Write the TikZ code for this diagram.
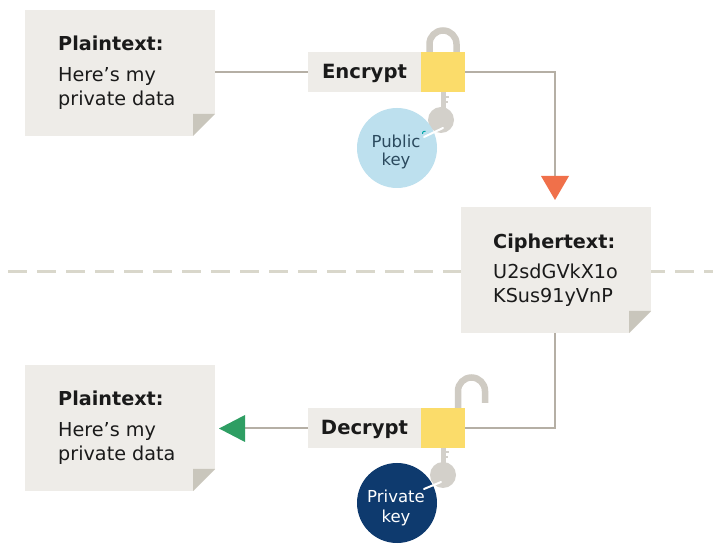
\documentclass[tikz,border=0pt]{standalone}
\usepackage{fontspec}
\setmainfont{DejaVu Sans}
\definecolor{paper}{HTML}{EEECE8}
\definecolor{foldc}{HTML}{C9C6BC}
\definecolor{linec}{HTML}{B5AFA5}
\definecolor{dashc}{HTML}{D9D7CB}
\definecolor{lockc}{HTML}{FBDC6A}
\definecolor{shacklec}{HTML}{CFCBC3}
\definecolor{keyc}{HTML}{D3D0CA}
\definecolor{pubc}{HTML}{BDE0EE}
\definecolor{pubtext}{HTML}{2B4A5E}
\definecolor{privc}{HTML}{0E3A6E}
\definecolor{orangec}{HTML}{F0704A}
\definecolor{greenc}{HTML}{2E9E63}
\definecolor{inkc}{HTML}{1A1A1A}
\tikzset{
  x=1pt,y=-1pt,
  link/.style={draw=linec,line width=2.6pt},
  shackle/.style={draw=shacklec,line width=6.5pt},
  keybody/.style={draw=keyc,line width=5pt},
  paperbox/.style={fill=paper,draw=none,inner sep=0pt,minimum width=190pt,minimum height=126pt},
  labelbar/.style={fill=paper,inner sep=0pt,minimum width=113pt,minimum height=40pt},
  barlabel/.style={anchor=base,inner sep=0pt,font=\fontsize{19.6}{22}\selectfont\bfseries,text=inkc},
  lockbody/.style={fill=lockc,inner sep=0pt,minimum width=44pt,minimum height=40pt},
  title/.style={anchor=base west,inner sep=0pt,font=\fontsize{19.2}{22}\selectfont\bfseries,text=inkc},
  body/.style={anchor=base west,inner sep=0pt,font=\fontsize{19.2}{22}\selectfont,text=inkc},
  keycircle/.style={circle,inner sep=0pt,minimum size=80pt},
  keytext/.style={anchor=base,inner sep=0pt,font=\fontsize{16.5}{19}\selectfont},
}
\newcommand{\foldedpaper}[3]{%
  \node[paperbox,anchor=north west] (#1) at (#2,#3) {};
  \fill[white] (#2+168,#3+126.5) -- (#2+190.5,#3+126.5) -- (#2+190.5,#3+104) -- cycle;
  \fill[foldc] (#2+190,#3+104) -- (#2+168,#3+104) -- (#2+168,#3+126) -- cycle;
}
\begin{document}
\begin{tikzpicture}
\useasboundingbox (0,0) rectangle (713,545);
\fill[white] (0,0) rectangle (713,545);
% dashed separator
\coordinate (dl) at (8,272);
\coordinate (dr) at (713,272);
\draw[draw=dashc,line width=3pt,dash pattern=on 19pt off 10pt] (dl) -- (dr);
% papers
\foldedpaper{plainA}{25}{10}
\foldedpaper{cipher}{461}{207}
\foldedpaper{plainB}{25}{365}
% shackles
\draw[shackle] (429.5,60) -- (429.5,44) arc[start angle=180,end angle=360,radius=13.5] -- (456.5,60);
\draw[shackle] (458,412) -- (458,391) arc[start angle=180,end angle=360,radius=13.5] -- (485,403);
% key of encrypt
\draw[keybody] (443,90) -- (443,112);
\fill[keyc] (441,120) circle[radius=13];
\draw[keyc,line width=1.5pt] (443,97) -- (449,97) (443,102) -- (448,102);
% key of decrypt
\draw[keybody] (443,445) -- (443,465);
\fill[keyc] (443,475) circle[radius=13];
\draw[keyc,line width=1.5pt] (443,452) -- (449,452) (443,457) -- (448,457);
% bars and locks
\node[labelbar] (enc) at (364.5,72) {};
\node[barlabel] (enct) at (364.5,79) {Encrypt};
\node[lockbody] (lockA) at (443,72) {};
\node[labelbar] (dec) at (364.5,428) {};
\node[barlabel] (dect) at (364.5,435) {Decrypt};
\node[lockbody] (lockB) at (443,428) {};
% circles
\node[keycircle,fill=pubc] (pub) at (397,148) {};
\node[keytext,text=pubtext] (pubt1) at (396,148) {Public};
\node[keytext,text=pubtext] (pubt2) at (396,166) {key};
\node[keycircle,fill=privc] (priv) at (397,503) {};
\node[keytext,text=white] (privt1) at (396,503) {Private};
\node[keytext,text=white] (privt2) at (396,522) {key};
\draw[white,line width=2pt,line cap=round] (424,137) -- (443,128);
\draw[white,line width=2pt,line cap=round] (424,489) -- (441,482);
\draw[teal!70!cyan,line width=1pt] (425.5,131.5) arc[start angle=-60,end angle=-200,radius=2];
% connectors
\coordinate (cA) at (555,72);
\coordinate (tipA) at (555,178);
\coordinate (cB) at (555,428);
\coordinate (tipB) at (243,428);
\draw[link] (plainA.east |- enc) -- (enc.west);
\draw[link] (lockA.east) -- (cA) -- (tipA);
\draw[link] (cipher.south -| cA) -- (cB) -- (lockB.east);
\draw[link] (dec.west) -- (tipB);
\fill[orangec] (541,176) -- (569,176) -- (555,200) -- cycle;
\fill[greenc] (245,415) -- (245,442) -- (219,428.5) -- cycle;
% paper texts
\node[title] (t1) at (58,51) {Plaintext:};
\node[body] (t2) at (58,82) {Here’s my};
\node[body] (t3) at (58,106) {private data};
\node[title] (t4) at (493,249) {Ciphertext:};
\node[body] (t5) at (493,279) {U2sdGVkX1o};
\node[body] (t6) at (493,303) {KSus91yVnP};
\node[title] (t7) at (58,406) {Plaintext:};
\node[body] (t8) at (58,437) {Here’s my};
\node[body] (t9) at (58,461) {private data};
\end{tikzpicture}
\end{document}
